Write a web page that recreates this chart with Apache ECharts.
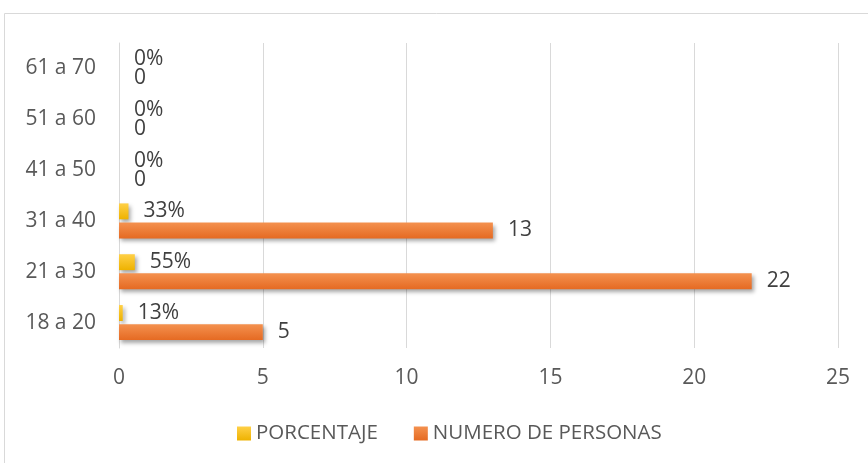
<!DOCTYPE html>
<html>
<head>
<meta charset="utf-8">
<script src="https://cdn.jsdelivr.net/npm/echarts@6/dist/echarts.min.js"></script>
<style>
  html, body { margin: 0; padding: 0; background: #fff; }
  #chart { width: 868px; height: 463px; }
</style>
</head>
<body>
<div id="chart"></div>
<script>
  // datos
  var categorias = ['18 a 20', '21 a 30', '31 a 40', '41 a 50', '51 a 60', '61 a 70']
  var porcentaje = [0.13, 0.55, 0.33, 0, 0, 0]
  var numeroPersonas = [5, 22, 13, 0, 0, 0]
  var ticksX = [0, 5, 10, 15, 20, 25]

  var fuente = 'Open Sans'
  var gris = '#595959'

  function degradado (a, b) {
    return new echarts.graphic.LinearGradient(0, 0, 0, 1, [
      { offset: 0, color: a },
      { offset: 1, color: b }
    ])
  }

  var sombra = {
    shadowColor: 'rgba(0,0,0,0.35)',
    shadowBlur: 4,
    shadowOffsetX: 2,
    shadowOffsetY: 3
  }

  var chart = echarts.init(document.getElementById('chart'))
  var option = {
    animation: false,
    textStyle: { fontFamily: fuente },
    graphic: [{
      type: 'rect',
      shape: { x: 4.5, y: 13.5, width: 900, height: 500 },
      style: { fill: 'none', stroke: '#d9d9d9', lineWidth: 1 },
      silent: true
    }],
    legend: {
      left: 232,
      top: 418,
      icon: 'rect',
      itemWidth: 14,
      itemHeight: 14,
      itemGap: 36,
      textStyle: { color: gris, fontSize: 20.5, fontFamily: fuente },
      data: ['PORCENTAJE', 'NUMERO DE PERSONAS']
    },
    grid: {
      left: 119,
      right: 30,
      top: 43,
      bottom: 115
    },
    xAxis: {
      type: 'value',
      min: ticksX[0],
      max: ticksX[ticksX.length - 1],
      interval: 5,
      axisLine: { show: false },
      axisTick: { show: false },
      axisLabel: { color: gris, fontSize: 21, margin: 20 },
      splitLine: { lineStyle: { color: '#d9d9d9' } }
    },
    yAxis: {
      type: 'category',
      data: categorias,
      axisLine: { lineStyle: { color: '#d9d9d9' } },
      axisTick: { show: false },
      axisLabel: { color: gris, fontSize: 21, margin: 23 }
    },
    series: [
      {
        name: 'PORCENTAJE',
        type: 'bar',
        data: porcentaje,
        barCategoryGap: '31%',
        barGap: '20%',
        itemStyle: Object.assign({ color: degradado('#ffd047', '#eeb200') }, sombra),
        label: {
          show: true,
          position: 'right',
          distance: 15,
          color: '#404040',
          fontSize: 21,
          formatter: function (p) {
            return Math.round(p.value * 100) + '%'
          }
        }
      },
      {
        name: 'NUMERO DE PERSONAS',
        type: 'bar',
        data: numeroPersonas,
        barCategoryGap: '31%',
        barGap: '20%',
        itemStyle: Object.assign({ color: degradado('#f4914f', '#e56a22') }, sombra),
        label: {
          show: true,
          position: 'right',
          distance: 15,
          color: '#404040',
          fontSize: 21
        }
      }
    ]
  }
  chart.setOption(option)
</script>
</body>
</html>
